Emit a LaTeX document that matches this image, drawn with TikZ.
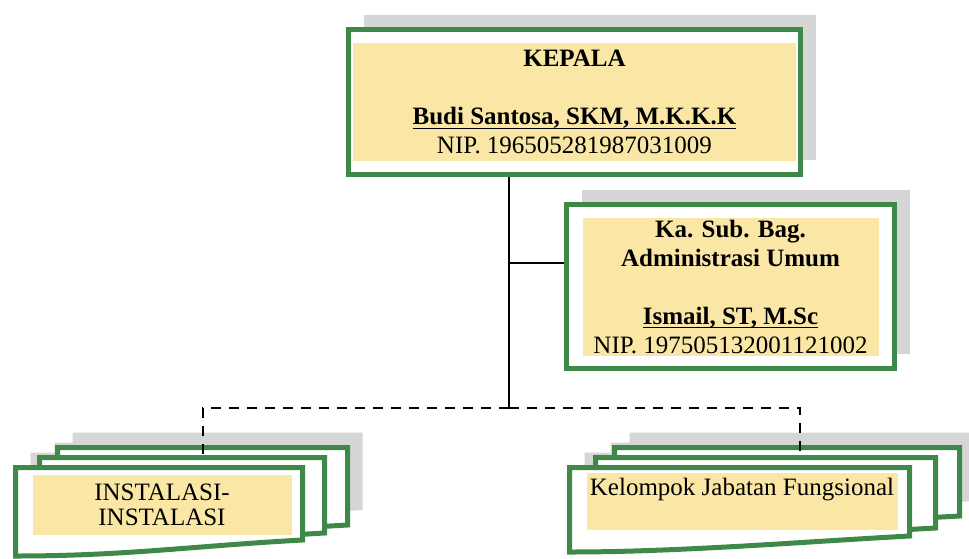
\documentclass[tikz,border=0pt]{standalone}
\usepackage{fontspec}
\setmainfont{Liberation Serif}
\usetikzlibrary{shadows,calc}
\definecolor{kgreen}{RGB}{63,137,72}
\definecolor{kyellow}{RGB}{250,231,165}
\definecolor{kshadow}{RGB}{214,214,214}
\newcommand{\garisbawah}[1]{\setbox0\hbox{#1}\rlap{\rule[-2.2pt]{\wd0}{0.7pt}}\box0}
\newcommand{\halamanpath}[4]{(#1,#2) -- (#3,#2) -- (#3,#4) .. controls +(-110,6) and +(110,0) .. (#1,#4+16) -- cycle}
\newcommand{\bayangan}[4]{\fill[bayang, shift={(15,-15)}] \halamanpath{#1}{#2}{#3}{#4};}
\newcommand{\halaman}[4]{\filldraw[lembar] \halamanpath{#1}{#2}{#3}{#4};}

\begin{document}
\begin{tikzpicture}[x=0.5pt,y=-0.5pt,font=\fontsize{12.5}{14.5}\selectfont,
  kotak/.style 2 args={draw=kgreen,line width=2.5pt,fill=white,inner sep=0pt,align=center,
    drop shadow={shadow xshift=7.5pt,shadow yshift=7.5pt,fill=kshadow,opacity=1},
    path picture={\fill[kyellow] ([shift={(#1,#2)}]path picture bounding box.south west) rectangle ([shift={(-#1,-#2)}]path picture bounding box.north east);}},
  lembar/.style={draw=kgreen,line width=2.5pt,fill=white},
  bayang/.style={fill=kshadow},
  isi/.style={fill=kyellow,inner sep=0pt,align=center},
  garis/.style={line width=0.6pt},
  putus/.style={line width=0.9pt,dash pattern=on 5pt off 4pt}]
  \useasboundingbox (0,0) rectangle (969,558);

  \node[kotak={2.25pt}{6.75pt}, minimum width=226pt, minimum height=72.5pt] (kepala) at (574.5,102)
    {\textbf{KEPALA}\\ \\ \textbf{\garisbawah{Budi Santosa, SKM, M.K.K.K}}\\ NIP. 196505281987031009};
  \node[kotak={8pt}{6.5pt}, minimum width=164pt, minimum height=82pt] (subbag) at (730.5,286.5)
    {\textbf{Ka. Sub. Bag.}\\ \textbf{Administrasi Umum}\\ \\ \textbf{\garisbawah{Ismail, ST, M.Sc}}\\ NIP. 197505132001121002};

  \bayangan{57.5}{447.5}{347.5}{525}
  \bayangan{39.5}{457.5}{324.5}{533}
  \bayangan{15.5}{467.5}{302.5}{540}
  \halaman{57.5}{447.5}{347.5}{525}
  \halaman{39.5}{457.5}{324.5}{533}
  \halaman{15.5}{467.5}{302.5}{540}
  \node[isi, minimum width=129.5pt, minimum height=30pt] (instalasi) at (162,505) {INSTALASI-\\[-2pt]INSTALASI};

  \bayangan{614.5}{447.5}{959.5}{516}
  \bayangan{595.5}{457.5}{935.5}{528}
  \bayangan{569.5}{467.5}{909.5}{536}
  \halaman{614.5}{447.5}{959.5}{516}
  \halaman{595.5}{457.5}{935.5}{528}
  \halaman{569.5}{467.5}{909.5}{536}
  \node[isi, minimum width=155.5pt, minimum height=28.5pt] (fungsional) at (742,501) {Kelompok Jabatan Fungsional\\ ~};

  \coordinate (pusat) at (509,408);
  \coordinate (cabang) at (509,263);
  \coordinate (kiri) at (203,454);
  \coordinate (kanan) at (800,452);
  \draw[garis] (pusat |- kepala.south) -- (pusat);
  \draw[garis] (cabang) -- (cabang -| subbag.west);
  \draw[putus] (pusat) -| (kiri);
  \draw[putus] (pusat) -| (kanan);
\end{tikzpicture}
\end{document}
